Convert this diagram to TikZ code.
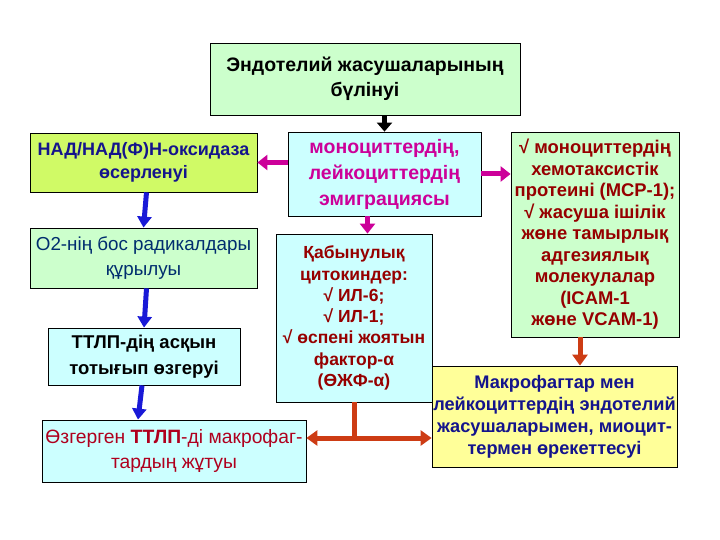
\documentclass[tikz,border=0pt]{standalone}
\usepackage{fontspec}
\setmainfont{Liberation Sans}
\usetikzlibrary{arrows.meta,calc}
\definecolor{lgreen}{RGB}{204,255,204}
\definecolor{lcyan}{RGB}{204,255,255}
\definecolor{ygreen}{RGB}{208,250,102}
\definecolor{lyellow}{RGB}{255,255,153}
\definecolor{navy}{RGB}{20,20,140}
\definecolor{navyb}{RGB}{0,45,110}
\definecolor{mag}{RGB}{204,0,153}
\definecolor{dred}{RGB}{150,0,0}
\definecolor{dredb}{RGB}{175,0,30}
\definecolor{bluearr}{RGB}{25,25,215}
\definecolor{redarr}{RGB}{205,60,20}
\begin{document}
\begin{tikzpicture}[x=1pt,y=-1pt,
  box/.style={draw=black,line width=0.8pt,align=center,inner sep=0pt},
  barr/.style={draw=bluearr,line width=5pt,-{Triangle[length=11pt,width=14pt]}},
  marr/.style={draw=mag,line width=5pt,-{Triangle[length=10pt,width=15pt]}},
  rarr/.style={draw=redarr,line width=5pt,-{Triangle[length=11pt,width=15pt]}},
  karr/.style={draw=black,line width=5pt,-{Triangle[length=9pt,width=15pt]}}]
\useasboundingbox (0,0) rectangle (720,540);
\fill[white] (0,0) rectangle (720,540);

\node[box,font=\fontsize{19.5}{25}\selectfont\bfseries,fill=lgreen,minimum width=310pt,minimum height=72pt] (top) at (365,79)
  {Эндотелий жасушаларының\\бүлінуі};
\node[box,font=\fontsize{18}{22.5}\selectfont\bfseries,fill=ygreen,text=navy,minimum width=227pt,minimum height=59pt] (nad) at (143.5,162.5)
  {НАД/НАД(Ф)Н-оксидаза\\өсерленуі};
\node[box,font=\fontsize{18.8}{24.5}\selectfont,fill=lgreen,text=navyb,minimum width=227pt,minimum height=60pt] (o2) at (143.5,258)
  {O2-нің бос радикалдары\\құрылуы};
\node[box,font=\fontsize{18.5}{26}\selectfont\bfseries,fill=lcyan,text=black,minimum width=192pt,minimum height=57pt] (ttlp) at (144,356.5)
  {ТТЛП-дің асқын\\тотығып өзгеруі};
\node[box,font=\fontsize{19.3}{25}\selectfont,fill=lcyan,text=dredb,minimum width=264pt,minimum height=62pt] (bl) at (174,451)
  {Өзгерген \textbf{ТТЛП}-ді макрофаг-\\тардың жұтуы};
\node[box,font=\fontsize{19.5}{26}\selectfont\bfseries,fill=lcyan,text=mag,minimum width=193pt,minimum height=84pt] (mono) at (384.5,174)
  {моноциттердің,\\лейкоциттердің\\эмиграциясы};
\node[box,font=\fontsize{17.5}{21.3}\selectfont\bfseries,fill=lcyan,text=dred,minimum width=156pt,minimum height=168pt] (kab) at (354,318)
  {Қабынулық\\цитокиндер:\\√ ИЛ-6;\\√ ИЛ-1;\\√ өспені жоятын\\фактор-α\\(ӨЖФ-α)};
\node[box,font=\fontsize{18.4}{21.5}\selectfont\bfseries,fill=lgreen,text=dred,minimum width=168pt,minimum height=205pt] (rb) at (595,234.5)
  {√ моноциттердің\\хемотаксистік\\протеині (МСР-1);\\√ жасуша ішілік\\жөне тамырлық\\адгезиялық\\молекулалар\\(ICAM-1\\жөне VCAM-1)};
\node[box,font=\fontsize{18.2}{22}\selectfont\bfseries,fill=lyellow,text=navy,minimum width=245pt,minimum height=101pt] (br) at (554.5,416.5)
  {Макрофагтар мен\\лейкоциттердің эндотелий\\жасушаларымен, миоцит-\\термен өрекеттесуі};

% arrows
\draw[karr] (mono.north |- top.south) -- (mono.north);
\draw[marr] (mono.west |- nad.east) -- (nad.east);
\draw[marr] (mono.east) -- (rb.west |- mono.east);
\draw[marr] ([xshift=-17pt]mono.south) -- ([xshift=-17pt]mono.south |- kab.north);
\draw[barr] ([xshift=3pt]nad.south) -- ([xshift=0pt]o2.north);
\draw[barr] ([xshift=3pt]o2.south) -- ([xshift=0pt]ttlp.north);
\draw[barr] ([xshift=-2pt]ttlp.south) -- ([xshift=-6pt]ttlp.south |- bl.north);
\draw[rarr] ([xshift=-15pt]rb.south) -- ([xshift=-15pt]rb.south |- br.north);
\coordinate (j) at (354,438);
\draw[draw=redarr,line width=5pt] (kab.south) -- (j);
\draw[draw=redarr,line width=5pt,{Triangle[length=11pt,width=15pt]}-{Triangle[length=11pt,width=15pt]}] (bl.east |- j) -- (br.west |- j);
\end{tikzpicture}
\end{document}
